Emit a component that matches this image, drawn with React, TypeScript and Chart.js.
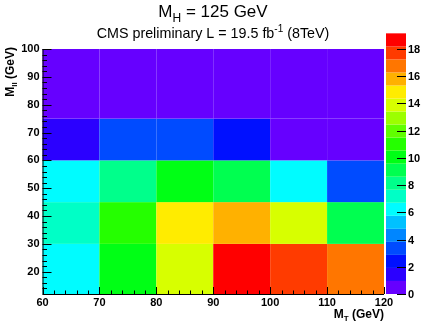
import React, { useEffect, useRef } from 'react';
import { Chart, registerables } from 'chart.js';
Chart.register(...registerables);

// Bin edges
const xEdges = [60, 70, 80, 90, 100, 110, 120];
const yEdges = [12, 30, 45, 60, 75, 100];
// Cell contents, one array per M_ll row (bottom to top), one value per M_T bin
const row12to30 = [6.2, 10.1, 13.9, 19.15, 17.7, 16.8];
const row30to45 = [7.2, 11.0, 14.8, 15.8, 13.9, 9.1];
const row45to60 = [6.3, 8.1, 10.0, 9.1, 6.1, 3.3];
const row60to75 = [1.4, 3.4, 3.3, 2.4, 0.5, 0.4];
const row75to100 = [0.5, 0.4, 0.5, 0.4, 0.5, 0.5];
const rows = [row12to30, row30to45, row45to60, row60to75, row75to100];
// Tick labels
const xTicks = [60, 70, 80, 90, 100, 110, 120];
const yTicks = [20, 30, 40, 50, 60, 70, 80, 90, 100];
const zTicks = [0, 2, 4, 6, 8, 10, 12, 14, 16, 18];
// 20-level rainbow palette (bottom to top)
const palette = [
  '#6600ff', '#2b00ff', '#0010ff', '#004bff', '#0086ff',
  '#00c1ff', '#00fcff', '#00ffc6', '#00ff8b', '#00ff50',
  '#00ff15', '#25ff00', '#60ff00', '#9cff00', '#d7ff00',
  '#ffec00', '#ffb100', '#ff7600', '#ff3b00', '#ff0000',
];

const zMax = Math.max(...rows.flat());
const colorFor = (v: number) => palette[Math.min(palette.length - 1, Math.floor((v / zMax) * palette.length))];

const FONT = '"Liberation Sans", Arial, Helvetica, sans-serif';

function drawSubText(ctx: CanvasRenderingContext2D, parts: { t: string; s?: 'sub' | 'sup' }[], x: number, y: number, size: number, weight: string, align: 'left' | 'center' | 'right') {
  const small = Math.round(size * 0.7);
  let total = 0;
  const widths = parts.map((p) => {
    ctx.font = `${weight} ${p.s ? small : size}px ${FONT}`;
    const w = ctx.measureText(p.t).width;
    total += w;
    return w;
  });
  let cx = align === 'left' ? x : align === 'center' ? x - total / 2 : x - total;
  ctx.textAlign = 'left';
  ctx.textBaseline = 'alphabetic';
  parts.forEach((p, i) => {
    ctx.font = `${weight} ${p.s ? small : size}px ${FONT}`;
    const dy = p.s === 'sub' ? size * 0.28 : p.s === 'sup' ? -size * 0.4 : 0;
    ctx.fillText(p.t, cx, y + dy);
    cx += widths[i];
  });
}

const heatPlugin = {
  id: 'heat',
  beforeDatasetsDraw(chart: any) {
    const { ctx, scales } = chart;
    const x = scales.x, y = scales.y;
    ctx.save();
    rows.forEach((row, j) => {
      row.forEach((v, i) => {
        const x0 = x.getPixelForValue(xEdges[i]);
        const x1 = x.getPixelForValue(xEdges[i + 1]);
        const y0 = y.getPixelForValue(yEdges[j]);
        const y1 = y.getPixelForValue(yEdges[j + 1]);
        ctx.fillStyle = colorFor(v);
        ctx.fillRect(x0, y1, x1 - x0, y0 - y1);
      });
    });
    ctx.restore();
  },
  afterDraw(chart: any) {
    const { ctx, chartArea, scales } = chart;
    const x = scales.x, y = scales.y, z = scales.z;
    const { left, right, top, bottom } = chartArea;
    ctx.save();
    ctx.strokeStyle = '#000';
    ctx.lineWidth = 1;
    // axis lines
    ctx.beginPath();
    ctx.moveTo(left + 0.5, top);
    ctx.lineTo(left + 0.5, bottom + 0.5);
    ctx.lineTo(right, bottom + 0.5);
    ctx.stroke();
    // x ticks (inside)
    ctx.beginPath();
    for (let v = xEdges[0]; v <= xEdges[xEdges.length - 1]; v += 2) {
      const px = Math.round(x.getPixelForValue(v)) + 0.5;
      const len = v % 10 === 0 ? 7 : 3.5;
      ctx.moveTo(px, bottom);
      ctx.lineTo(px, bottom - len);
    }
    // y ticks (inside)
    for (let v = 12; v <= 100; v += 2) {
      const py = Math.round(y.getPixelForValue(v)) + 0.5;
      const len = v % 10 === 0 ? 9 : 4.5;
      ctx.moveTo(left, py);
      ctx.lineTo(left + len, py);
    }
    ctx.stroke();

    // palette
    const pl = right + 2, pr = right + 22;
    const bw = zMax / palette.length;
    palette.forEach((c, k) => {
      const y0 = z.getPixelForValue(k * bw);
      const y1 = z.getPixelForValue((k + 1) * bw);
      ctx.fillStyle = c;
      ctx.fillRect(pl, y1, pr - pl, y0 - y1);
    });
    ctx.beginPath();
    zTicks.forEach((v) => {
      const py = Math.round(z.getPixelForValue(v)) + 0.5;
      ctx.moveTo(pr - 9, py);
      ctx.lineTo(pr, py);
    });
    ctx.stroke();
    ctx.fillStyle = '#000';
    ctx.font = `bold 11px ${FONT}`;
    ctx.textAlign = 'left';
    ctx.textBaseline = 'middle';
    zTicks.forEach((v) => {
      ctx.fillText(String(v), pr + 2, z.getPixelForValue(v) + 1);
    });

    // titles
    ctx.fillStyle = '#000';
    drawSubText(ctx, [{ t: 'M' }, { t: 'H', s: 'sub' }, { t: ' = 125 GeV' }], 213, 17, 17, 'normal', 'center');
    drawSubText(ctx, [{ t: 'CMS preliminary L = 19.5 fb' }, { t: '-1', s: 'sup' }, { t: ' (8TeV)' }], 213, 38, 14.3, 'normal', 'center');
    drawSubText(ctx, [{ t: 'M' }, { t: 'T', s: 'sub' }, { t: ' (GeV)' }], right, 318, 12, 'bold', 'right');
    ctx.save();
    ctx.translate(14, top - 2);
    ctx.rotate(-Math.PI / 2);
    drawSubText(ctx, [{ t: 'M' }, { t: 'll', s: 'sub' }, { t: ' (GeV)' }], 0, 0, 12, 'bold', 'right');
    ctx.restore();
    ctx.restore();
  },
};

export default function App() {
  const ref = useRef<HTMLCanvasElement>(null);
  useEffect(() => {
    document.body.style.margin = '0';
    const cells: { x: number; y: number; v: number }[] = [];
    rows.forEach((row, j) =>
      row.forEach((v, i) =>
        cells.push({ x: (xEdges[i] + xEdges[i + 1]) / 2, y: (yEdges[j] + yEdges[j + 1]) / 2, v })
      )
    );
    const tickFont = { family: FONT, size: 11, weight: 'bold' as const };
    const chart = new Chart(ref.current!, {
      type: 'scatter',
      data: { datasets: [{ data: cells, pointRadius: 0, pointHoverRadius: 0 }] },
      options: {
        responsive: false,
        animation: false,
        events: [],
        layout: { padding: { top: 49, right: 43, left: 0, bottom: 0 } },
        plugins: { legend: { display: false }, tooltip: { enabled: false } },
        scales: {
          x: {
            type: 'linear',
            min: xEdges[0],
            max: xEdges[xEdges.length - 1],
            grid: { display: false, drawTicks: false },
            border: { display: false },
            ticks: { font: tickFont, color: '#000', padding: 2, autoSkip: false, maxRotation: 0 },
            afterBuildTicks: (s: any) => { s.ticks = xTicks.map((v) => ({ value: v })); },
            afterFit: (s: any) => { s.height = 33; },
          },
          y: {
            type: 'linear',
            min: yEdges[0],
            max: yEdges[yEdges.length - 1],
            grid: { display: false, drawTicks: false },
            border: { display: false },
            ticks: { font: tickFont, color: '#000', padding: 3, autoSkip: false },
            afterBuildTicks: (s: any) => { s.ticks = yTicks.map((v) => ({ value: v })); },
            afterFit: (s: any) => { s.width = 42.5; },
          },
          z: {
            type: 'linear',
            position: 'right',
            display: false,
            min: 0,
            max: 18,
          },
        },
      } as any,
      plugins: [heatPlugin],
    });
    return () => chart.destroy();
  }, []);
  return (
    <div style={{ position: 'absolute', left: 0, top: 0, width: 427, height: 327, background: '#fff' }}>
      <canvas ref={ref} width={427} height={327} style={{ display: 'block' }} />
    </div>
  );
}
